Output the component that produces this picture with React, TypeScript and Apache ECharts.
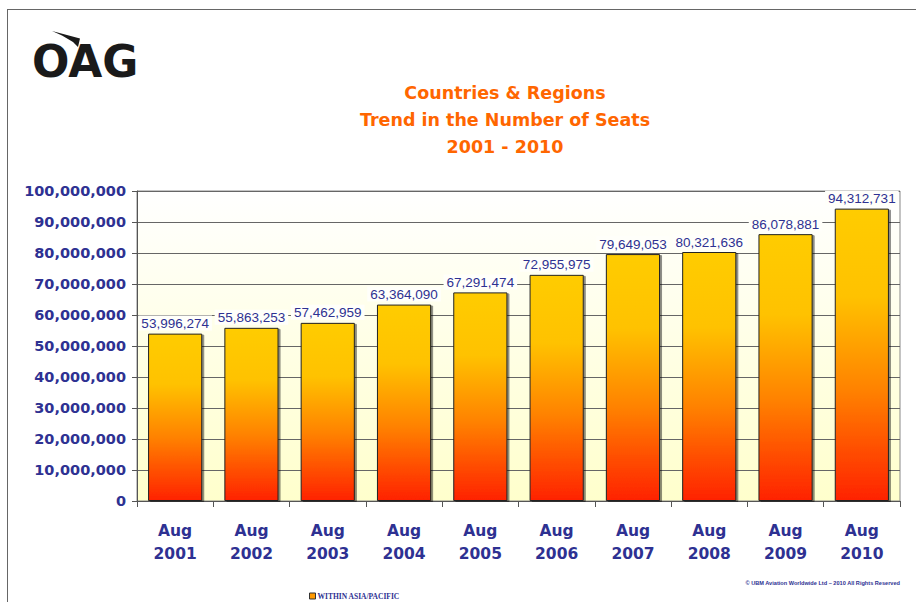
import React, { useEffect, useRef } from "react";
import * as echarts from "echarts";

const categories = ["Aug\n2001", "Aug\n2002", "Aug\n2003", "Aug\n2004", "Aug\n2005", "Aug\n2006", "Aug\n2007", "Aug\n2008", "Aug\n2009", "Aug\n2010"];
const seats = [53996274, 55863253, 57462959, 63364090, 67291474, 72955975, 79649053, 80321636, 86078881, 94312731];
const titleLines = ["Countries & Regions", "Trend in the Number of Seats", "2001 - 2010"];
const seriesName = "WITHIN ASIA/PACIFIC";
const copyright = "© UBM Aviation Worldwide Ltd – 2010 All Rights Reserved";

const BLUE = "#2E3192";
const fmt = (v: number) => v.toLocaleString("en-US");

export default function App() {
  const ref = useRef<HTMLDivElement>(null);
  useEffect(() => {
    if (!ref.current) return;
    const chart = echarts.init(ref.current, null, { renderer: "svg" });
    chart.setOption({
      animation: false,
      backgroundColor: "#ffffff",
      grid: {
        left: 137,
        right: 16,
        top: 191,
        bottom: 101,
        show: true,
        borderColor: "#888",
        borderWidth: 1,
        backgroundColor: new echarts.graphic.LinearGradient(0, 0, 0, 1, [
          { offset: 0, color: "#FFFFFF" },
          { offset: 1, color: "#FFFFCC" },
        ]),
      },
      legend: {
        show: true,
        left: 309,
        top: 592,
        itemWidth: 6,
        itemHeight: 6,
        itemGap: 4,
        icon: "rect",
        padding: 0,
        textStyle: { fontFamily: "'Liberation Serif', serif", fontWeight: "bold", fontSize: 7.5, color: BLUE, padding: [0, 0, 0, -3] },
        data: [{ name: seriesName, itemStyle: { color: "#FF9900", borderColor: "#333", borderWidth: 1 } }],
      },
      xAxis: {
        type: "category",
        data: categories,
        axisLine: { show: true, lineStyle: { color: "#555", width: 1 } },
        axisTick: { show: true, length: 6, lineStyle: { color: "#555" } },
        axisLabel: {
          color: BLUE,
          fontFamily: "'DejaVu Sans', Verdana, sans-serif",
          fontWeight: "bold",
          fontSize: 15.5,
          lineHeight: 23,
          margin: 18,
        },
      },
      yAxis: {
        type: "value",
        min: 0,
        max: 100000000,
        interval: 10000000,
        axisLine: { show: true, lineStyle: { color: "#555", width: 1 } },
        axisTick: { show: true, length: 5, lineStyle: { color: "#555" } },
        splitLine: { show: true, lineStyle: { color: "#666", width: 1 } },
        axisLabel: {
          color: BLUE,
          fontFamily: "'DejaVu Sans', Verdana, sans-serif",
          fontWeight: "bold",
          fontSize: 14.5,
          margin: 11,
          formatter: (v: number) => fmt(v),
        },
      },
      series: [
        {
          name: seriesName,
          type: "bar",
          data: seats,
          barCategoryGap: "29%",
          itemStyle: {
            color: new echarts.graphic.LinearGradient(0, 0, 0, 1, [
              { offset: 0, color: "#FFCC00" },
              { offset: 0.3, color: "#FFC200" },
              { offset: 0.62, color: "#FF8200" },
              { offset: 1, color: "#FF2200" },
            ]),
            borderColor: "#222",
            borderWidth: 1,
            shadowColor: "rgba(0,0,0,0.45)",
            shadowOffsetX: 2,
            shadowOffsetY: 1,
            shadowBlur: 1,
          },
          label: {
            show: true,
            position: "top",
            distance: 3,
            color: BLUE,
            fontFamily: "'Liberation Sans', Arial, sans-serif",
            fontSize: 13.5,
            backgroundColor: "#FFFFFA",
            padding: [1, 3, 0, 3],
            formatter: (p: any) => fmt(p.value),
          },
        },
      ],
      graphic: [
        { type: "line", shape: { x1: 7, y1: 9.5, x2: 916, y2: 9.5 }, style: { stroke: "#666", lineWidth: 1 } },
        { type: "line", shape: { x1: 7.5, y1: 9, x2: 7.5, y2: 602 }, style: { stroke: "#666", lineWidth: 1 } },
        {
          type: "text",
          x: 32,
          y: 61,
          style: {
            text: "OAG",
            fill: "#1a1a1a",
            font: "bold 44px 'DejaVu Sans', sans-serif",
            textAlign: "left",
            textVerticalAlign: "middle",
          },
        },
        {
          type: "polygon",
          shape: { points: [[52, 31], [80, 38.5], [78, 47], [73, 42], [62, 35.5]] },
          style: { fill: "#1a1a1a" },
        },
        ...titleLines.map((t, i) => ({
          type: "text",
          x: 505,
          y: 93 + i * 27,
          style: {
            text: t,
            fill: "#FF6600",
            font: "bold 17.5px 'DejaVu Sans', Verdana, sans-serif",
            textAlign: "center",
            textVerticalAlign: "middle",
          },
        })),
        {
          type: "text",
          x: 900,
          y: 583,
          style: {
            text: copyright,
            fill: BLUE,
            font: "bold 5.6px 'Liberation Sans', Arial, sans-serif",
            textAlign: "right",
            textVerticalAlign: "middle",
          },
        },
      ],
    });
    return () => chart.dispose();
  }, []);
  return <div ref={ref} style={{ position: "fixed", left: 0, top: 0, width: 916, height: 602 }} />;
}
